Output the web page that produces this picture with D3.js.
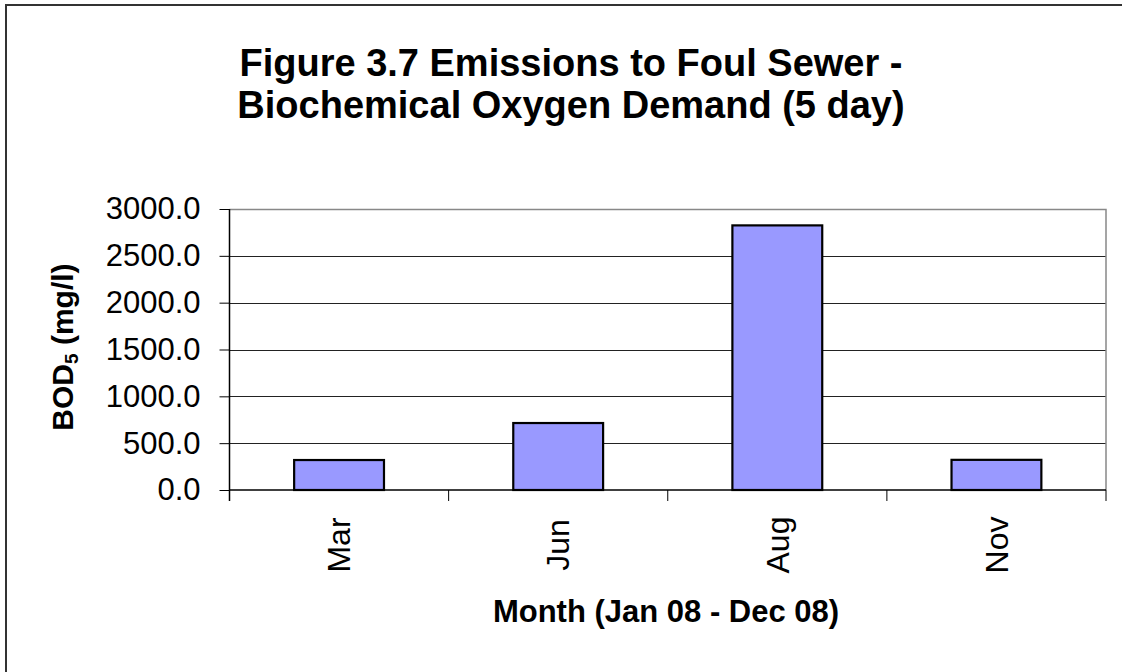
<!DOCTYPE html>
<html>
<head>
<meta charset="utf-8">
<script src="https://cdnjs.cloudflare.com/ajax/libs/d3/7.8.5/d3.min.js"></script>
<style>
  body { margin: 0; background: #fff; }
  text { font-family: "Liberation Sans", Arial, sans-serif; fill: #000; }
</style>
</head>
<body>
<div id="chart"></div>
<script>
const months = ["Mar", "Jun", "Aug", "Nov"];
const bod5 = [320, 715, 2825, 322];
const yTicks = [0, 500, 1000, 1500, 2000, 2500, 3000];
const titleLines = ["Figure 3.7 Emissions to Foul Sewer -", "Biochemical Oxygen Demand (5 day)"];

const width = 1122, height = 672;
const plot = { left: 229.5, right: 1106, top: 209, bottom: 490 };

const svg = d3.select('#chart').append('svg')
    .attr('width', width)
    .attr('height', height);

// outer chart border (right and bottom sit outside the frame)
svg.append('rect')
    .attr('x', 6).attr('y', 5)
    .attr('width', width + 10).attr('height', height + 10)
    .attr('fill', 'none')
    .attr('stroke', '#333')
    .attr('stroke-width', 2);

const x = d3.scaleBand()
    .domain(months)
    .range([plot.left, plot.right])
    .padding(0);

const y = d3.scaleLinear()
    .domain([0, 3000])
    .range([plot.bottom, plot.top]);

// gridlines
svg.append('g')
    .selectAll('line')
    .data(yTicks.filter(d => d > 0 && d < 3000))
    .enter()
    .append('line')
    .attr('x1', plot.left).attr('x2', plot.right)
    .attr('y1', d => Math.round(y(d)) + 0.5)
    .attr('y2', d => Math.round(y(d)) + 0.5)
    .attr('stroke', '#222')
    .attr('stroke-width', 1);

// plot area top and right edges
svg.append('path')
    .attr('d', `M${plot.left},${plot.top + 0.5}H${plot.right}V${plot.bottom}`)
    .attr('fill', 'none')
    .attr('stroke', '#888')
    .attr('stroke-width', 1.5);

// bars
const barW = x.bandwidth() * 0.41;
svg.append('g')
    .selectAll('rect')
    .data(months.map((m, i) => ({ month: m, value: bod5[i] })))
    .enter()
    .append('rect')
    .attr('x', d => x(d.month) + (x.bandwidth() - barW) / 2)
    .attr('y', d => y(d.value))
    .attr('width', barW)
    .attr('height', d => y(0) - y(d.value))
    .attr('fill', '#9999FF')
    .attr('stroke', '#000')
    .attr('stroke-width', 2.2);

// y axis
const yAxis = d3.axisLeft(y)
    .tickValues(yTicks)
    .tickSize(10)
    .tickPadding(19)
    .tickFormat(d3.format('.1f'));

const gy = svg.append('g')
    .attr('transform', `translate(${plot.left},0)`)
    .call(yAxis);
gy.select('.domain').remove();
gy.selectAll('.tick line').attr('stroke', '#000');
gy.selectAll('.tick text')
    .style('font-size', '31px')
    .style('font-family', '"Liberation Sans", Arial, sans-serif')
    .attr('fill', '#000');

svg.append('line')
    .attr('x1', plot.left).attr('x2', plot.left)
    .attr('y1', plot.top).attr('y2', plot.bottom + 11)
    .attr('stroke', '#000')
    .attr('stroke-width', 1.5);

// x axis line and boundary ticks
svg.append('line')
    .attr('x1', plot.left).attr('x2', plot.right)
    .attr('y1', plot.bottom).attr('y2', plot.bottom)
    .attr('stroke', '#000')
    .attr('stroke-width', 1.5);

svg.append('g')
    .selectAll('line')
    .data(months)
    .enter()
    .append('line')
    .attr('x1', d => x(d) + x.bandwidth())
    .attr('x2', d => x(d) + x.bandwidth())
    .attr('y1', plot.bottom).attr('y2', plot.bottom + 11)
    .attr('stroke', '#000')
    .attr('stroke-width', 1);

// rotated month labels
svg.append('g')
    .selectAll('text')
    .data(months)
    .enter()
    .append('text')
    .attr('transform', d => `translate(${x(d) + x.bandwidth() / 2},545) rotate(-90)`)
    .attr('text-anchor', 'middle')
    .attr('dy', '0.35em')
    .style('font-size', '32px')
    .text(d => d);

// title
svg.append('g')
    .selectAll('text')
    .data(titleLines)
    .enter()
    .append('text')
    .attr('x', 571)
    .attr('y', (d, i) => 76 + i * 42)
    .attr('text-anchor', 'middle')
    .style('font-size', '38px')
    .style('font-weight', 'bold')
    .text(d => d);

// x axis title
svg.append('text')
    .attr('x', 666)
    .attr('y', 622)
    .attr('text-anchor', 'middle')
    .style('font-size', '31px')
    .style('font-weight', 'bold')
    .text('Month (Jan 08 - Dec 08)');

// y axis title with subscript
const yTitle = svg.append('text')
    .attr('transform', `translate(73,347) rotate(-90)`)
    .attr('text-anchor', 'middle')
    .style('font-size', '30px')
    .style('font-weight', 'bold');
yTitle.append('tspan').text('BOD');
yTitle.append('tspan').attr('dy', 5).style('font-size', '19px').text('5');
yTitle.append('tspan').attr('dy', -5).text(' (mg/l)');
</script>
</body>
</html>
